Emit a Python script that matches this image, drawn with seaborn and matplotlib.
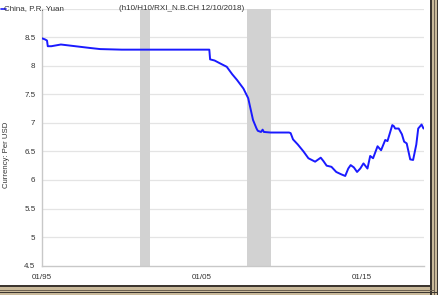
import numpy as np
import pandas as pd
import matplotlib
matplotlib.use("Agg")
import matplotlib.pyplot as plt
from matplotlib.lines import Line2D
from matplotlib.patches import Rectangle
import seaborn as sns

# ---- data (decimal year, CNY per USD) ----
years = [1995.0, 1995.2, 1995.33, 1995.38, 1995.6, 1996.0, 1996.2, 1996.8,
         1997.4, 1998.0, 1998.65, 2000.0, 2002.0, 2004.0, 2005.47,
         2005.52, 2005.8, 2006.14, 2006.56, 2006.9, 2007.2, 2007.6,
         2007.9, 2008.2, 2008.42, 2008.5, 2008.7, 2008.8, 2008.88,
         2009.3, 2010.0, 2010.45, 2010.55, 2010.7, 2011.0, 2011.35,
         2011.66, 2012.08, 2012.43, 2012.6, 2012.8, 2013.1, 2013.4,
         2013.7, 2013.96, 2014.15, 2014.3, 2014.5, 2014.7, 2014.9,
         2015.1, 2015.35, 2015.52, 2015.7, 2015.98, 2016.2, 2016.46,
         2016.6, 2016.9, 2017.0, 2017.08, 2017.3, 2017.5, 2017.64,
         2017.8, 2018.02, 2018.2, 2018.4, 2018.52, 2018.73, 2018.85]
rates = [8.48, 8.46, 8.44, 8.34, 8.34, 8.36, 8.37, 8.35,
         8.33, 8.31, 8.29, 8.28, 8.28, 8.28, 8.28,
         8.11, 8.09, 8.04, 7.98, 7.85, 7.75, 7.60,
         7.43, 7.05, 6.90, 6.86, 6.84, 6.88, 6.84,
         6.83, 6.83, 6.83, 6.82, 6.71, 6.62, 6.50,
         6.38, 6.32, 6.39, 6.33, 6.25, 6.23, 6.14,
         6.10, 6.07, 6.20, 6.26, 6.22, 6.14, 6.20,
         6.29, 6.20, 6.42, 6.38, 6.59, 6.52, 6.70,
         6.68, 6.96, 6.94, 6.90, 6.90, 6.80, 6.67,
         6.64, 6.36, 6.35, 6.62, 6.90, 6.97, 6.90]
recessions = [(2001.17, 2001.75), (2007.85, 2009.35)]
xtick_pos = [1995, 2005, 2015]
xtick_labels = ["01/95", "01/05", "01/15"]
yticks = [4.5, 5, 5.5, 6, 6.5, 7, 7.5, 8, 8.5]

df = pd.DataFrame({"year": years, "rate": rates})

sns.set_style("white")
plt.rcParams["font.family"] = ["Liberation Sans", "DejaVu Sans"]

W, H = 439, 295
fig = plt.figure(figsize=(W / 100, H / 100), dpi=100)
fig.patch.set_facecolor("white")
ax = fig.add_axes([41.7 / W, (H - 265.7) / H, (424.3 - 41.7) / W, (265.7 - 8.5) / H])

for a, b in recessions:
    ax.axvspan(a, b, color="#d2d2d2", lw=0, zorder=1)

sns.lineplot(data=df, x="year", y="rate", ax=ax, color="#1a1aff",
             linewidth=1.4, zorder=3, sort=False)

ax.set_xlim(1995.0, 2018.9)
ax.set_ylim(4.5, 9.0)
ax.set_yticks(yticks)
ax.set_yticklabels([f"{v:g}" for v in yticks])
ax.set_xticks(xtick_pos)
ax.set_xticklabels(xtick_labels)
for v in yticks[1:] + [9.0]:
    ax.axhline(v, color="#e4e4e4", lw=0.9, zorder=0)

ax.tick_params(axis="both", labelsize=5.8, colors="#555555", length=2.5,
               width=0.6, pad=2)
ax.tick_params(axis="x", pad=3.5)
for lab in ax.get_xticklabels() + ax.get_yticklabels():
    lab.set_color("#333333")
for s in ["top", "right"]:
    ax.spines[s].set_visible(False)
for s in ["left", "bottom"]:
    ax.spines[s].set_color("#c8c8c8")
    ax.spines[s].set_linewidth(1.0)

ax.set_xlabel("")
ax.set_ylabel("Currency: Per USD", fontsize=5.6, color="#333333")
ax.yaxis.set_label_coords(-0.082, 0.43)

# header texts
fig.add_artist(Line2D([1 / W, 6 / W], [1 - 9 / H, 1 - 9 / H], color="#1a1aff", lw=1.2))
fig.text(4 / W, 1 - 9 / H, "China, P.R. Yuan", fontsize=5.8, color="#333333",
         va="center", ha="left")
fig.text(182 / W, 1 - 9 / H, "(h10/H10/RXI_N.B.CH 12/10/2018)", fontsize=5.8,
         color="#333333", va="center", ha="center")

# picture frame (right and bottom)
frame = [("#c9b99a", 430, 439), ("#3c3630", 430, 432), ("#6e6252", 434.5, 435.5),
         ("#3c3630", 437, 438)]
for col, x0, x1 in frame:
    fig.add_artist(Rectangle((x0 / W, 0), (x1 - x0) / W, 1, transform=fig.transFigure,
                             color=col, lw=0))
    fig.add_artist(Rectangle((0, (H - (x1 - 430 + 285)) / H), x0 / W + (x1 - x0) / W,
                             (x1 - x0) / H, transform=fig.transFigure, color=col, lw=0))
fig.add_artist(Rectangle((0, 0), 439 / W, (H - 285 - 9) / H, transform=fig.transFigure,
                         color="#c9b99a", lw=0, zorder=-1))

fig.savefig("out.png", dpi=100)
